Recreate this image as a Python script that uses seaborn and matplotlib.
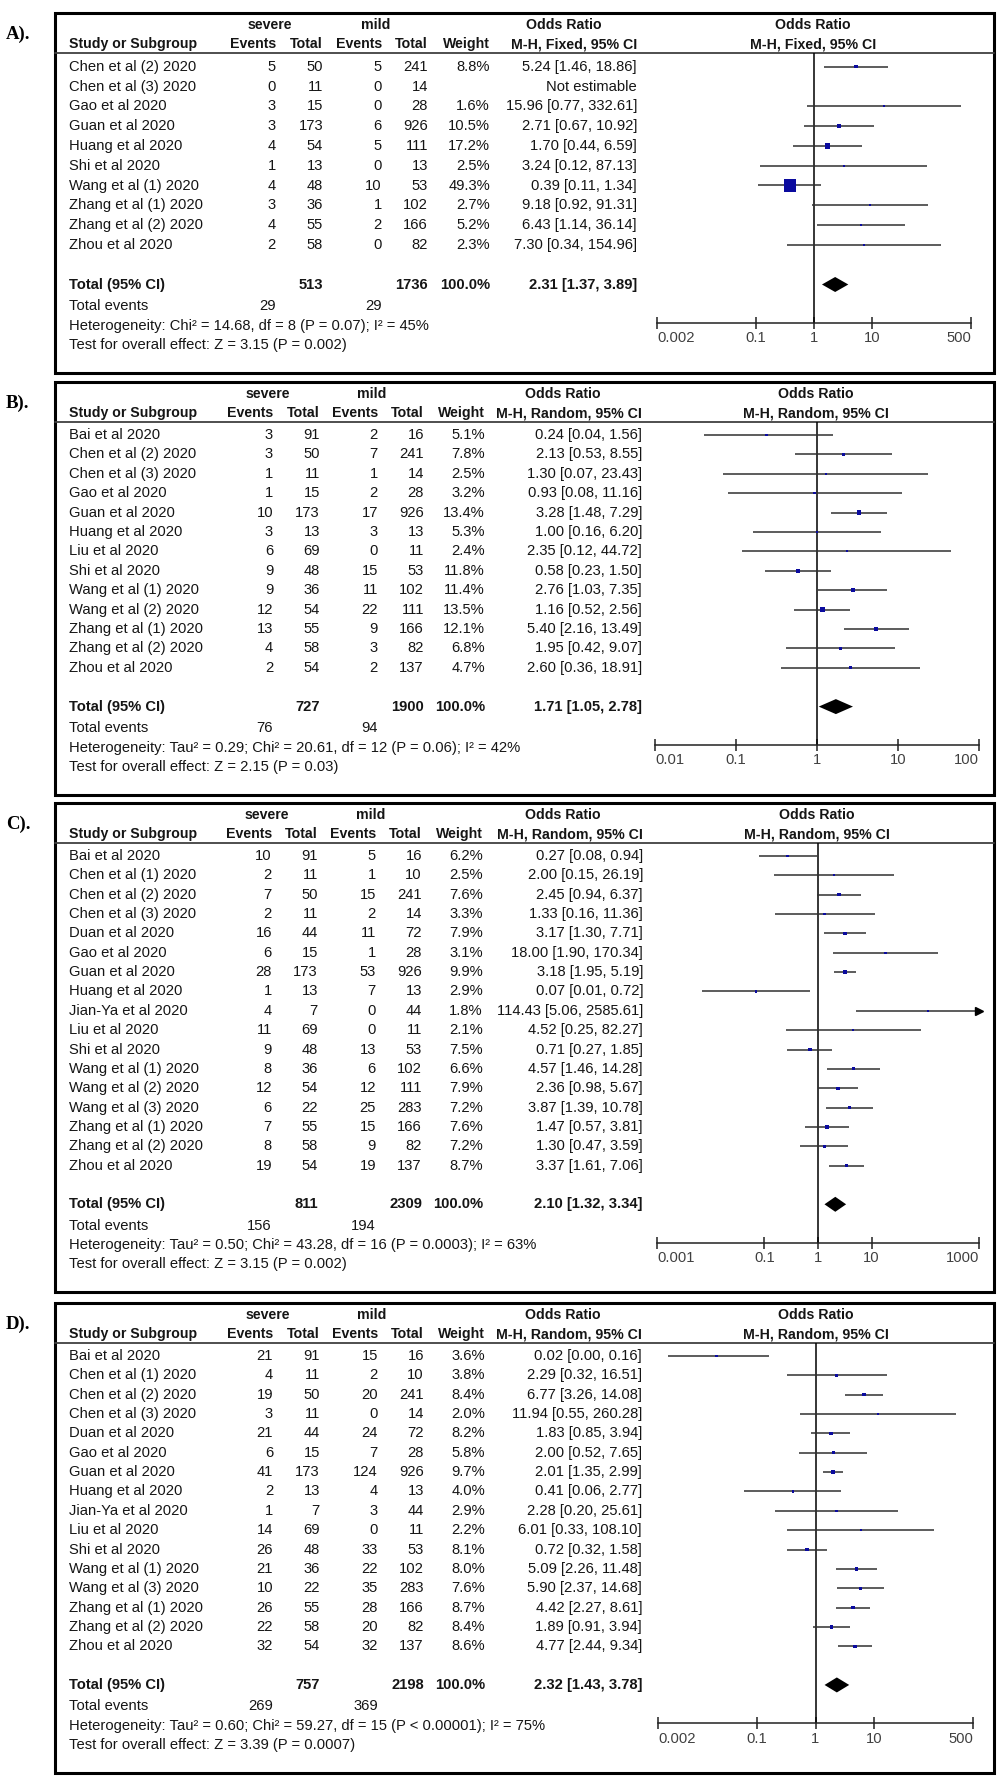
import numpy as np
import matplotlib
matplotlib.use("Agg")
import matplotlib.pyplot as plt
from matplotlib.patches import Rectangle
from matplotlib.ticker import NullLocator
import seaborn as sns

# ---------------- Panel A: M-H, Fixed ----------------
a_study = ["Chen et al (2) 2020", "Chen et al (3) 2020", "Gao et al 2020", "Guan et al 2020",
           "Huang et al 2020", "Shi et al 2020", "Wang et al (1) 2020", "Zhang et al (1) 2020",
           "Zhang et al (2) 2020", "Zhou et al 2020"]
a_sev_ev = [5, 0, 3, 3, 4, 1, 4, 3, 4, 2]
a_sev_tot = [50, 11, 15, 173, 54, 13, 48, 36, 55, 58]
a_mild_ev = [5, 0, 0, 6, 5, 0, 10, 1, 2, 0]
a_mild_tot = [241, 14, 28, 926, 111, 13, 53, 102, 166, 82]
a_weight = [8.8, np.nan, 1.6, 10.5, 17.2, 2.5, 49.3, 2.7, 5.2, 2.3]
a_or = [5.24, np.nan, 15.96, 2.71, 1.70, 3.24, 0.39, 9.18, 6.43, 7.30]
a_lo = [1.46, np.nan, 0.77, 0.67, 0.44, 0.12, 0.11, 0.92, 1.14, 0.34]
a_hi = [18.86, np.nan, 332.61, 10.92, 6.59, 87.13, 1.34, 91.31, 36.14, 154.96]
a_total = [513, 1736, 2.31, 1.37, 3.89]
a_events = [29, 29]
a_het = "Heterogeneity: Chi\u00b2 = 14.68, df = 8 (P = 0.07); I\u00b2 = 45%"
a_test = "Test for overall effect: Z = 3.15 (P = 0.002)"
a_ticks = [0.002, 0.1, 1, 10, 500]
a_ticklabels = ["0.002", "0.1", "1", "10", "500"]

# ---------------- Panel B: M-H, Random ----------------
b_study = ["Bai et al 2020", "Chen et al (2) 2020", "Chen et al (3) 2020", "Gao et al 2020",
           "Guan et al 2020", "Huang et al 2020", "Liu et al 2020", "Shi et al 2020",
           "Wang et al (1) 2020", "Wang et al (2) 2020", "Zhang et al (1) 2020",
           "Zhang et al (2) 2020", "Zhou et al 2020"]
b_sev_ev = [3, 3, 1, 1, 10, 3, 6, 9, 9, 12, 13, 4, 2]
b_sev_tot = [91, 50, 11, 15, 173, 13, 69, 48, 36, 54, 55, 58, 54]
b_mild_ev = [2, 7, 1, 2, 17, 3, 0, 15, 11, 22, 9, 3, 2]
b_mild_tot = [16, 241, 14, 28, 926, 13, 11, 53, 102, 111, 166, 82, 137]
b_weight = [5.1, 7.8, 2.5, 3.2, 13.4, 5.3, 2.4, 11.8, 11.4, 13.5, 12.1, 6.8, 4.7]
b_or = [0.24, 2.13, 1.30, 0.93, 3.28, 1.00, 2.35, 0.58, 2.76, 1.16, 5.40, 1.95, 2.60]
b_lo = [0.04, 0.53, 0.07, 0.08, 1.48, 0.16, 0.12, 0.23, 1.03, 0.52, 2.16, 0.42, 0.36]
b_hi = [1.56, 8.55, 23.43, 11.16, 7.29, 6.20, 44.72, 1.50, 7.35, 2.56, 13.49, 9.07, 18.91]
b_total = [727, 1900, 1.71, 1.05, 2.78]
b_events = [76, 94]
b_het = "Heterogeneity: Tau\u00b2 = 0.29; Chi\u00b2 = 20.61, df = 12 (P = 0.06); I\u00b2 = 42%"
b_test = "Test for overall effect: Z = 2.15 (P = 0.03)"
b_ticks = [0.01, 0.1, 1, 10, 100]
b_ticklabels = ["0.01", "0.1", "1", "10", "100"]

# ---------------- Panel C: M-H, Random ----------------
c_study = ["Bai et al 2020", "Chen et al (1) 2020", "Chen et al (2) 2020", "Chen et al (3) 2020",
           "Duan et al 2020", "Gao et al 2020", "Guan et al 2020", "Huang et al 2020",
           "Jian-Ya et al 2020", "Liu et al 2020", "Shi et al 2020", "Wang et al (1) 2020",
           "Wang et al (2) 2020", "Wang et al (3) 2020", "Zhang et al (1) 2020",
           "Zhang et al (2) 2020", "Zhou et al 2020"]
c_sev_ev = [10, 2, 7, 2, 16, 6, 28, 1, 4, 11, 9, 8, 12, 6, 7, 8, 19]
c_sev_tot = [91, 11, 50, 11, 44, 15, 173, 13, 7, 69, 48, 36, 54, 22, 55, 58, 54]
c_mild_ev = [5, 1, 15, 2, 11, 1, 53, 7, 0, 0, 13, 6, 12, 25, 15, 9, 19]
c_mild_tot = [16, 10, 241, 14, 72, 28, 926, 13, 44, 11, 53, 102, 111, 283, 166, 82, 137]
c_weight = [6.2, 2.5, 7.6, 3.3, 7.9, 3.1, 9.9, 2.9, 1.8, 2.1, 7.5, 6.6, 7.9, 7.2, 7.6, 7.2, 8.7]
c_or = [0.27, 2.00, 2.45, 1.33, 3.17, 18.00, 3.18, 0.07, 114.43, 4.52, 0.71, 4.57, 2.36, 3.87,
        1.47, 1.30, 3.37]
c_lo = [0.08, 0.15, 0.94, 0.16, 1.30, 1.90, 1.95, 0.007, 5.06, 0.25, 0.27, 1.46, 0.98, 1.39,
        0.57, 0.47, 1.61]
c_hi = [0.94, 26.19, 6.37, 11.36, 7.71, 170.34, 5.19, 0.72, 2585.61, 82.27, 1.85, 14.28, 5.67,
        10.78, 3.81, 3.59, 7.06]
c_total = [811, 2309, 2.10, 1.32, 3.34]
c_events = [156, 194]
c_het = "Heterogeneity: Tau\u00b2 = 0.50; Chi\u00b2 = 43.28, df = 16 (P = 0.0003); I\u00b2 = 63%"
c_test = "Test for overall effect: Z = 3.15 (P = 0.002)"
c_ticks = [0.001, 0.1, 1, 10, 1000]
c_ticklabels = ["0.001", "0.1", "1", "10", "1000"]

# ---------------- Panel D: M-H, Random ----------------
d_study = ["Bai et al 2020", "Chen et al (1) 2020", "Chen et al (2) 2020", "Chen et al (3) 2020",
           "Duan et al 2020", "Gao et al 2020", "Guan et al 2020", "Huang et al 2020",
           "Jian-Ya et al 2020", "Liu et al 2020", "Shi et al 2020", "Wang et al (1) 2020",
           "Wang et al (3) 2020", "Zhang et al (1) 2020", "Zhang et al (2) 2020",
           "Zhou et al 2020"]
d_sev_ev = [21, 4, 19, 3, 21, 6, 41, 2, 1, 14, 26, 21, 10, 26, 22, 32]
d_sev_tot = [91, 11, 50, 11, 44, 15, 173, 13, 7, 69, 48, 36, 22, 55, 58, 54]
d_mild_ev = [15, 2, 20, 0, 24, 7, 124, 4, 3, 0, 33, 22, 35, 28, 20, 32]
d_mild_tot = [16, 10, 241, 14, 72, 28, 926, 13, 44, 11, 53, 102, 283, 166, 82, 137]
d_weight = [3.6, 3.8, 8.4, 2.0, 8.2, 5.8, 9.7, 4.0, 2.9, 2.2, 8.1, 8.0, 7.6, 8.7, 8.4, 8.6]
d_or = [0.02, 2.29, 6.77, 11.94, 1.83, 2.00, 2.01, 0.41, 2.28, 6.01, 0.72, 5.09, 5.90, 4.42,
        1.89, 4.77]
d_lo = [0.003, 0.32, 3.26, 0.55, 0.85, 0.52, 1.35, 0.06, 0.20, 0.33, 0.32, 2.26, 2.37, 2.27,
        0.91, 2.44]
d_hi = [0.16, 16.51, 14.08, 260.28, 3.94, 7.65, 2.99, 2.77, 25.61, 108.10, 1.58, 11.48, 14.68,
        8.61, 3.94, 9.34]
d_total = [757, 2198, 2.32, 1.43, 3.78]
d_events = [269, 369]
d_het = "Heterogeneity: Tau\u00b2 = 0.60; Chi\u00b2 = 59.27, df = 15 (P < 0.00001); I\u00b2 = 75%"
d_test = "Test for overall effect: Z = 3.39 (P = 0.0007)"
d_ticks = [0.002, 0.1, 1, 10, 500]
d_ticklabels = ["0.002", "0.1", "1", "10", "500"]

W, H = 1000, 1785
BLUE = "#0b0b9e"
TXT = "#151515"
FS = 10.6      # regular text
FSB = 10.2     # bold header text

sns.set_theme(style="white")
plt.rcParams['font.family'] = ['Liberation Sans', 'DejaVu Sans']

fig = plt.figure(figsize=(W / 100, H / 100), dpi=100)
ax0 = fig.add_axes([0, 0, 1, 1])
ax0.set_xlim(0, W)
ax0.set_ylim(H, 0)
ax0.axis("off")


def fmt_or(e, l, h):
    if np.isnan(e):
        return "Not estimable"
    return f"{e:.2f} [{l:.2f}, {h:.2f}]"


def draw_panel(label, method, study, sev_ev, sev_tot, mild_ev, mild_tot, weight, est, lo, hi,
               total, events, het, test, ticks, ticklabels, lay):
    top, first, sp = lay["top"], lay["first"], lay["sp"]
    c = lay["cols"]
    n = len(study)
    total_y = first + (n + 1) * sp
    bottom = total_y + 88
    axis_y = total_y + 38.5
    line_y = top + 40
    hdr1, hdr2 = top + 12, top + 31

    ax0.add_patch(Rectangle((55, top), 939, bottom - top, fill=False, lw=2.2, ec="black"))
    ax0.plot([55, 994], [line_y, line_y], color="#404040", lw=1.3)
    ax0.text(6, top + 21, label, fontsize=13.5, fontweight="bold",
             family=["Liberation Serif"], va="center", ha="left", color="black")

    bold = dict(fontsize=FSB, fontweight="bold", va="center", color=TXT)
    ax0.text(lay["sev_c"], hdr1, "severe", ha="center", **bold)
    ax0.text(lay["mild_c"], hdr1, "mild", ha="center", **bold)
    ax0.text(lay["or_c"], hdr1, "Odds Ratio", ha="center", **bold)
    ax0.text(lay["plot_c"], hdr1, "Odds Ratio", ha="center", **bold)
    ax0.text(69, hdr2, "Study or Subgroup", ha="left", **bold)
    for x, s in zip(c[:5], ["Events", "Total", "Events", "Total", "Weight"]):
        ax0.text(x, hdr2, s, ha="right", **bold)
    ax0.text(c[5], hdr2, f"M-H, {method}, 95% CI", ha="right", **bold)
    ax0.text(lay["plot_c"], hdr2, f"M-H, {method}, 95% CI", ha="center", **bold)

    reg = dict(fontsize=FS, va="center", color=TXT)
    for i in range(n):
        y = first + i * sp
        ax0.text(69, y, study[i], ha="left", **reg)
        vals = [sev_ev[i], sev_tot[i], mild_ev[i], mild_tot[i]]
        for x, v in zip(c[:4], vals):
            ax0.text(x, y, str(v), ha="right", **reg)
        if not np.isnan(weight[i]):
            ax0.text(c[4], y, f"{weight[i]:.1f}%", ha="right", **reg)
        ax0.text(c[5], y, fmt_or(est[i], lo[i], hi[i]), ha="right", **reg)

    boldt = dict(bold, fontsize=FS)
    ax0.text(69, total_y, "Total (95% CI)", ha="left", **boldt)
    ax0.text(c[1], total_y, str(total[0]), ha="right", **boldt)
    ax0.text(c[3], total_y, str(total[1]), ha="right", **boldt)
    ax0.text(c[4], total_y, "100.0%", ha="right", **boldt)
    ax0.text(c[5], total_y, fmt_or(total[2], total[3], total[4]), ha="right", **boldt)
    ax0.text(69, total_y + 21.5, "Total events", ha="left", **reg)
    ax0.text(c[0], total_y + 21.5, str(events[0]), ha="right", **reg)
    ax0.text(c[2], total_y + 21.5, str(events[1]), ha="right", **reg)
    ax0.text(69, total_y + 41, het, ha="left", **reg)
    ax0.text(69, total_y + 60, test, ha="left", **reg)

    # forest plot
    fx0, fx1 = lay["fx"]
    axf = fig.add_axes([fx0 / W, 1 - axis_y / H, (fx1 - fx0) / W, (axis_y - line_y) / H])
    axf.patch.set_alpha(0)
    axf.set_xscale("log")
    xmin, xmax = ticks[0], ticks[-1]
    axf.set_xlim(xmin, xmax)
    axf.set_ylim((axis_y - first) / sp, (line_y - first) / sp)

    est = np.asarray(est, float)
    lo = np.asarray(lo, float)
    hi = np.asarray(hi, float)
    w = np.asarray(weight, float)
    rows = np.arange(n, dtype=float)
    ok = ~np.isnan(est)

    axf.axvline(1, color="black", lw=1.1, zorder=1)
    axf.hlines(rows[ok], lo[ok], np.minimum(hi[ok], xmax), color="#303030", lw=1.1, zorder=2)
    over = ok & (hi > xmax)
    if over.any():
        axf.plot(np.full(over.sum(), xmax), rows[over], marker=">", ms=6, color="black",
                 ls="none", clip_on=False, zorder=3)
    side_px = 1.6 + 0.22 * w[ok]
    sns.scatterplot(x=est[ok], y=rows[ok], s=(side_px * 0.72) ** 2, marker="s", color=BLUE,
                    linewidth=0, legend=False, ax=axf, zorder=4)

    ty = n + 1
    hh = 7.5 / sp
    axf.fill([total[3], total[2], total[4], total[2]], [ty, ty - hh, ty, ty + hh],
             color="black", lw=0, zorder=4)

    for s in ["top", "left", "right"]:
        axf.spines[s].set_visible(False)
    axf.spines["bottom"].set_color("#222222")
    axf.spines["bottom"].set_linewidth(1.1)
    axf.set_yticks([])
    axf.set_xticks(ticks)
    axf.set_xticklabels(ticklabels)
    axf.xaxis.set_minor_locator(NullLocator())
    axf.tick_params(axis="x", direction="inout", length=9, width=1.1, pad=1.5,
                    labelsize=FS, labelcolor="#404040", color="#222222", bottom=True)
    labs = axf.get_xticklabels()
    labs[0].set_ha("left")
    labs[-1].set_ha("right")
    axf.set_xlabel("")
    axf.set_ylabel("")
    axf.grid(False)


lay_a = dict(top=13, first=66.7, sp=19.8, cols=[276, 323, 382, 428, 490, 637],
             sev_c=270, mild_c=376, or_c=564, plot_c=813, fx=(657, 971))
lay_b = dict(top=382, first=435, sp=19.4, cols=[273, 320, 378, 424, 485, 642],
             sev_c=268, mild_c=372, or_c=563, plot_c=816, fx=(655, 979))
lay_c = dict(top=803, first=856, sp=19.35, cols=[272, 318, 376, 422, 483, 643],
             sev_c=267, mild_c=371, or_c=563, plot_c=817, fx=(657, 979))
lay_d = dict(top=1303, first=1356, sp=19.35, cols=[273, 320, 378, 424, 485, 642],
             sev_c=268, mild_c=372, or_c=563, plot_c=816, fx=(658, 973))

draw_panel("A).", "Fixed", a_study, a_sev_ev, a_sev_tot, a_mild_ev, a_mild_tot, a_weight,
           a_or, a_lo, a_hi, a_total, a_events, a_het, a_test, a_ticks, a_ticklabels, lay_a)
draw_panel("B).", "Random", b_study, b_sev_ev, b_sev_tot, b_mild_ev, b_mild_tot, b_weight,
           b_or, b_lo, b_hi, b_total, b_events, b_het, b_test, b_ticks, b_ticklabels, lay_b)
draw_panel("C).", "Random", c_study, c_sev_ev, c_sev_tot, c_mild_ev, c_mild_tot, c_weight,
           c_or, c_lo, c_hi, c_total, c_events, c_het, c_test, c_ticks, c_ticklabels, lay_c)
draw_panel("D).", "Random", d_study, d_sev_ev, d_sev_tot, d_mild_ev, d_mild_tot, d_weight,
           d_or, d_lo, d_hi, d_total, d_events, d_het, d_test, d_ticks, d_ticklabels, lay_d)

fig.savefig("out.png", dpi=100)
